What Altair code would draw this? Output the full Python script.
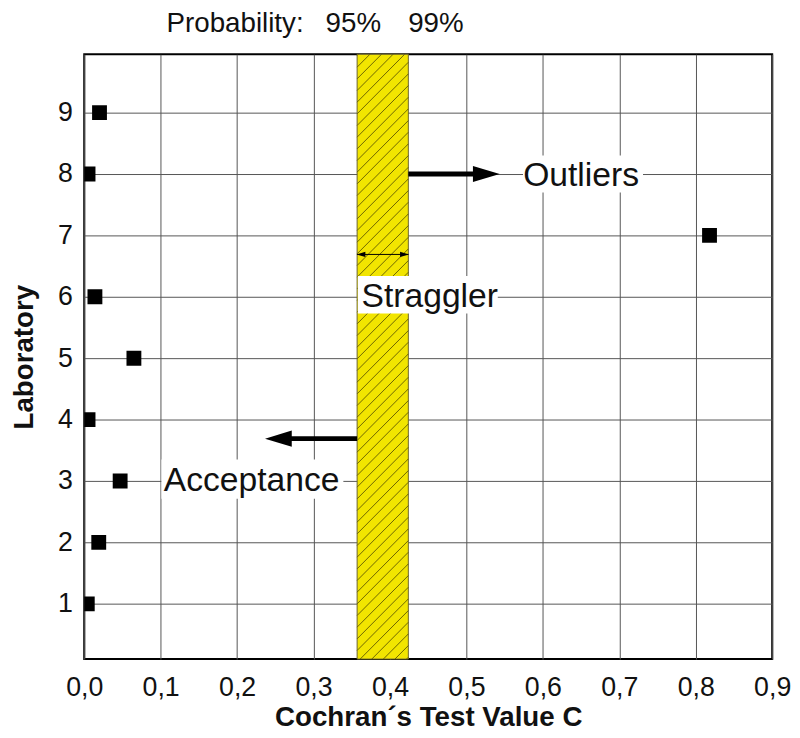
import altair as alt
import pandas as pd
import numpy as np

# ---- data ----
labs = [1, 2, 3, 4, 5, 6, 7, 8, 9]
cochran_c = [0.004, 0.019, 0.047, 0.005, 0.065, 0.014, 0.818, 0.005, 0.020]

x_ticks = [0.0, 0.1, 0.2, 0.3, 0.4, 0.5, 0.6, 0.7, 0.8, 0.9]
y_ticks = [1, 2, 3, 4, 5, 6, 7, 8, 9]
x_domain = [0.0, 0.9]
y_domain = [0.1, 9.95]

# critical values (95 %, 99 %) -> straggler band
band_lo = [0.357]
band_hi = [0.424]

prob_text = ["Probability:", "95%", "99%"]
prob_x = [0.287, 0.352, 0.460]
prob_align = ["right", "center", "center"]

note_text = ["Outliers", "Straggler", "Acceptance"]
note_x = [0.650, 0.452, 0.219]
note_y = [7.97, 6.0, 3.0]
box_x = [0.574, 0.358, 0.101]
box_x2 = [0.731, 0.541, 0.339]
box_y = [7.70, 5.73, 2.71]
box_y2 = [8.30, 6.34, 3.35]

# arrows: shaft start/end, y, head centre, head direction
arrow_x = [0.424, 0.357]
arrow_x2 = [0.513, 0.263]
arrow_y = [8.0, 3.69]
head_x = [0.526, 0.254]
head_dir = ["right", "left"]

strag_y = [6.69]
strag_head_x = [0.362, 0.419]
strag_head_dir = ["left", "right"]

W, H = 695, 611
FONT = "Liberation Sans"

xs = alt.Scale(domain=x_domain, nice=False, zero=False)
ys = alt.Scale(domain=y_domain, nice=False, zero=False)

# ---- tables ----
pts = pd.DataFrame({"lab": labs, "c": cochran_c})
band = pd.DataFrame({"x": band_lo, "x2": band_hi, "y": [y_domain[0]], "y2": [y_domain[1]]})

hatch_start = np.arange(y_domain[0] - 1.0, y_domain[1] + 0.1, 0.19)
hatch = pd.DataFrame({
    "x": band_lo * len(hatch_start),
    "x2": band_hi * len(hatch_start),
    "y": hatch_start,
    "y2": hatch_start + 0.84,
})

prob = pd.DataFrame({"t": prob_text, "x": prob_x, "a": prob_align})
notes = pd.DataFrame({"t": note_text, "x": note_x, "y": note_y})
boxes = pd.DataFrame({"x": box_x, "x2": box_x2, "y": box_y, "y2": box_y2})
arrows = pd.DataFrame({"x": arrow_x, "x2": arrow_x2, "y": arrow_y})
heads = pd.DataFrame({"x": head_x, "y": arrow_y, "d": head_dir})
strag = pd.DataFrame({"x": band_lo, "x2": band_hi, "y": strag_y})
strag_heads = pd.DataFrame({"x": strag_head_x, "y": strag_y * 2, "d": strag_head_dir})

RIGHT = "M-1,-0.6L1,0L-1,0.6Z"
LEFT = "M1,-0.6L-1,0L1,0.6Z"

x_axis = alt.Axis(
    values=x_ticks, grid=True, ticks=False, tickSize=0, domain=False, labelFlush=False,
    labelExpr="replace(format(datum.value, '.1f'), '.', ',')",
    labelFont=FONT, labelFontSize=27, labelColor="#111", labelPadding=16,
    title="Cochran\u00b4s Test Value C", titleFont=FONT, titleFontSize=28,
    titleFontWeight="bold", titleColor="#111", titlePadding=3,
)
y_axis = alt.Axis(
    values=y_ticks, format="d", grid=True, ticks=False, tickSize=0, domain=False,
    labelFlush=False,
    labelFont=FONT, labelFontSize=27, labelColor="#111", labelPadding=12,
    title="Laboratory", titleFont=FONT, titleFontSize=28,
    titleFontWeight="bold", titleColor="#111", titlePadding=19,
)

base_x = alt.X("x:Q", scale=xs, axis=x_axis)
base_y = alt.Y("y:Q", scale=ys, axis=y_axis)

band_l = alt.Chart(band).mark_rect(fill="#f2e500", stroke="#6a6430", strokeWidth=1).encode(
    x=base_x, x2="x2:Q", y=base_y, y2="y2:Q")

hatch_l = alt.Chart(hatch).mark_rule(color="#5e5800", strokeWidth=0.9, clip=True).encode(
    x=alt.X("x:Q", scale=xs), x2="x2:Q", y=alt.Y("y:Q", scale=ys), y2="y2:Q")

boxes_l = alt.Chart(boxes).mark_rect(fill="white", stroke=None).encode(
    x=alt.X("x:Q", scale=xs), x2="x2:Q", y=alt.Y("y:Q", scale=ys), y2="y2:Q")

notes_l = alt.Chart(notes).mark_text(font=FONT, fontSize=34, color="#111", align="center",
                                     baseline="middle").encode(
    x=alt.X("x:Q", scale=xs), y=alt.Y("y:Q", scale=ys), text="t:N")

arrows_l = alt.Chart(arrows).mark_rule(color="black", strokeWidth=5).encode(
    x=alt.X("x:Q", scale=xs), x2="x2:Q", y=alt.Y("y:Q", scale=ys))

heads_r = alt.Chart(heads).transform_filter("datum.d == 'right'").mark_point(
    shape=RIGHT, size=729, filled=True, color="black", opacity=1).encode(
    x=alt.X("x:Q", scale=xs), y=alt.Y("y:Q", scale=ys))
heads_lft = alt.Chart(heads).transform_filter("datum.d == 'left'").mark_point(
    shape=LEFT, size=729, filled=True, color="black", opacity=1).encode(
    x=alt.X("x:Q", scale=xs), y=alt.Y("y:Q", scale=ys))

strag_l = alt.Chart(strag).mark_rule(color="black", strokeWidth=1).encode(
    x=alt.X("x:Q", scale=xs), x2="x2:Q", y=alt.Y("y:Q", scale=ys))
sh_r = alt.Chart(strag_heads).transform_filter("datum.d == 'right'").mark_point(
    shape=RIGHT, size=81, filled=True, color="black", opacity=1).encode(
    x=alt.X("x:Q", scale=xs), y=alt.Y("y:Q", scale=ys))
sh_l = alt.Chart(strag_heads).transform_filter("datum.d == 'left'").mark_point(
    shape=LEFT, size=81, filled=True, color="black", opacity=1).encode(
    x=alt.X("x:Q", scale=xs), y=alt.Y("y:Q", scale=ys))

prob_r = alt.Chart(prob).transform_filter("datum.a == 'right'").mark_text(
    font=FONT, fontSize=28, color="#111", align="right", baseline="middle").encode(
    x=alt.X("x:Q", scale=xs), y=alt.value(-30), text="t:N")
prob_c = alt.Chart(prob).transform_filter("datum.a == 'center'").mark_text(
    font=FONT, fontSize=28, color="#111", align="center", baseline="middle").encode(
    x=alt.X("x:Q", scale=xs), y=alt.value(-30), text="t:N")

pts_l = alt.Chart(pts).mark_square(size=225, color="black", opacity=1, clip=True).encode(
    x=alt.X("c:Q", scale=xs), y=alt.Y("lab:Q", scale=ys))

chart = alt.layer(
    band_l, hatch_l, boxes_l, notes_l, arrows_l, heads_r, heads_lft,
    strag_l, sh_r, sh_l, prob_r, prob_c, pts_l,
).properties(
    width=W, height=H,
    autosize=alt.AutoSizeParams(type="none"),
    padding={"left": 77, "top": 43, "right": 20, "bottom": 76},
).configure_view(
    stroke="black", strokeWidth=2
).configure_axis(
    gridColor="#555", gridWidth=1, gridOpacity=1
)

chart.save("out.html", embed_options={"renderer": "svg", "actions": False})
